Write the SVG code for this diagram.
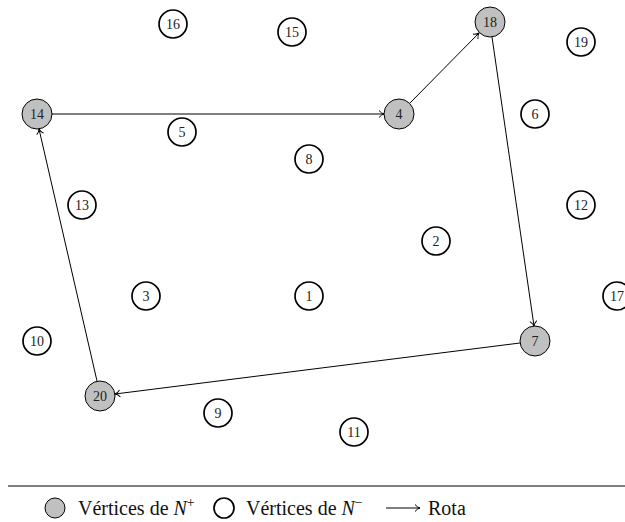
<svg xmlns="http://www.w3.org/2000/svg" width="625" height="522" viewBox="0 0 625 522">
<style>
.g circle{fill:#c0c0c0;stroke:#000;stroke-width:1}
.w circle{fill:#fff;stroke:#000;stroke-width:1.7}
text{font-family:"Liberation Serif",serif;font-size:14px;fill:#222;text-anchor:middle;dominant-baseline:central}
.e{stroke:#000;stroke-width:1;fill:none;marker-end:url(#a)}
.lg{font-family:"Liberation Serif",serif;font-size:20px;text-anchor:start;fill:#111;dominant-baseline:auto}
</style>
<defs>
<marker id="a" markerWidth="10" markerHeight="10" refX="8" refY="5" orient="auto" markerUnits="userSpaceOnUse">
<path d="M3,1.5 Q5.5,4.5 8,5 Q5.5,5.5 3,8.5" fill="none" stroke="#000" stroke-width="1"/>
</marker>
</defs>
<g id="edges">
<line class="e" x1="52" y1="114" x2="384" y2="114"/>
<line class="e" x1="410" y1="103" x2="479" y2="33"/>
<line class="e" x1="492" y1="37" x2="534" y2="326"/>
<line class="e" x1="520" y1="343" x2="115" y2="394"/>
<line class="e" x1="97" y1="381" x2="39" y2="129"/>
</g>
<g id="n16" class="w"><circle cx="173" cy="24" r="14"/><text x="173" y="24">16</text></g>
<g id="n15" class="w"><circle cx="292" cy="32" r="14"/><text x="292" y="32">15</text></g>
<g id="n18" class="g"><circle cx="490" cy="22" r="15"/><text x="490" y="22">18</text></g>
<g id="n19" class="w"><circle cx="581" cy="42" r="14"/><text x="581" y="42">19</text></g>
<g id="n14" class="g"><circle cx="37" cy="114" r="15"/><text x="37" y="114">14</text></g>
<g id="n4" class="g"><circle cx="399" cy="114" r="15"/><text x="399" y="114">4</text></g>
<g id="n5" class="w"><circle cx="182" cy="132" r="14"/><text x="182" y="132">5</text></g>
<g id="n6" class="w"><circle cx="535" cy="114" r="14"/><text x="535" y="114">6</text></g>
<g id="n8" class="w"><circle cx="309" cy="159" r="14"/><text x="309" y="159">8</text></g>
<g id="n13" class="w"><circle cx="82" cy="205" r="14"/><text x="82" y="205">13</text></g>
<g id="n12" class="w"><circle cx="581" cy="205" r="14"/><text x="581" y="205">12</text></g>
<g id="n2" class="w"><circle cx="436" cy="241" r="14"/><text x="436" y="241">2</text></g>
<g id="n3" class="w"><circle cx="146" cy="296" r="14"/><text x="146" y="296">3</text></g>
<g id="n1" class="w"><circle cx="309" cy="296" r="14"/><text x="309" y="296">1</text></g>
<g id="n17" class="w"><circle cx="617" cy="296" r="14"/><text x="617" y="296">17</text></g>
<g id="n10" class="w"><circle cx="37" cy="341" r="14"/><text x="37" y="341">10</text></g>
<g id="n7" class="g"><circle cx="535" cy="341" r="15"/><text x="535" y="341">7</text></g>
<g id="n20" class="g"><circle cx="100" cy="396" r="15"/><text x="100" y="396">20</text></g>
<g id="n9" class="w"><circle cx="218" cy="413" r="14"/><text x="218" y="413">9</text></g>
<g id="n11" class="w"><circle cx="354" cy="432" r="14"/><text x="354" y="432">11</text></g>
<g id="legend">
<line x1="8" y1="486" x2="625" y2="486" stroke="#000" stroke-width="1"/>
<circle cx="55" cy="508" r="10" fill="#c0c0c0" stroke="#000" stroke-width="1"/>
<text class="lg" x="78" y="515">Vértices de <tspan font-style="italic">N</tspan><tspan font-size="14" dy="-8">+</tspan></text>
<circle cx="224" cy="508" r="10" fill="#fff" stroke="#000" stroke-width="1.7"/>
<text class="lg" x="246" y="515">Vértices de <tspan font-style="italic">N</tspan><tspan font-size="14" dy="-8">−</tspan></text>
<line x1="386" y1="508" x2="420" y2="508" stroke="#000" stroke-width="1" marker-end="url(#a)"/>
<text class="lg" x="428" y="515">Rota</text>
</g>
</svg>
